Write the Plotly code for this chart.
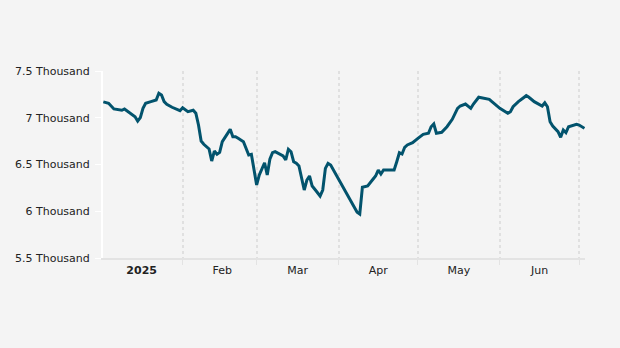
import plotly.graph_objects as go

# Daily series, January - early July 2025
dates = [
    "2025-01-02", "2025-01-04", "2025-01-06", "2025-01-09", "2025-01-10", "2025-01-11",
    "2025-01-13", "2025-01-14", "2025-01-15", "2025-01-16", "2025-01-17", "2025-01-18",
    "2025-01-20", "2025-01-21", "2025-01-22", "2025-01-23", "2025-01-24", "2025-01-25",
    "2025-01-26", "2025-01-28", "2025-01-31", "2025-02-01", "2025-02-03", "2025-02-05",
    "2025-02-06", "2025-02-07", "2025-02-08", "2025-02-09", "2025-02-11", "2025-02-12",
    "2025-02-13", "2025-02-14", "2025-02-15", "2025-02-16", "2025-02-18", "2025-02-19",
    "2025-02-20", "2025-02-21", "2025-02-22", "2025-02-24", "2025-02-26", "2025-02-27",
    "2025-03-01", "2025-03-02", "2025-03-04", "2025-03-05", "2025-03-06", "2025-03-07",
    "2025-03-08", "2025-03-10", "2025-03-11", "2025-03-12", "2025-03-13", "2025-03-14",
    "2025-03-15", "2025-03-16", "2025-03-17", "2025-03-19", "2025-03-20", "2025-03-21",
    "2025-03-22", "2025-03-23", "2025-03-25", "2025-03-26", "2025-03-27", "2025-03-28",
    "2025-03-29", "2025-04-08", "2025-04-09", "2025-04-10", "2025-04-12", "2025-04-14",
    "2025-04-15", "2025-04-16", "2025-04-17", "2025-04-18", "2025-04-22", "2025-04-23",
    "2025-04-24", "2025-04-25", "2025-04-26", "2025-04-27", "2025-04-29", "2025-05-01",
    "2025-05-03", "2025-05-05", "2025-05-06", "2025-05-07", "2025-05-08", "2025-05-10",
    "2025-05-12", "2025-05-14", "2025-05-16", "2025-05-17", "2025-05-19", "2025-05-21",
    "2025-05-22", "2025-05-24", "2025-05-26", "2025-05-28", "2025-05-29", "2025-06-01",
    "2025-06-04", "2025-06-05", "2025-06-06", "2025-06-08", "2025-06-11", "2025-06-12",
    "2025-06-14", "2025-06-16", "2025-06-17", "2025-06-18", "2025-06-19", "2025-06-20",
    "2025-06-21", "2025-06-23", "2025-06-24", "2025-06-25", "2025-06-26", "2025-06-27",
    "2025-06-28", "2025-06-30", "2025-07-01", "2025-07-03",
]

values = [
    7170, 7155, 7094, 7080, 7094, 7072,
    7037, 7011, 6965, 7001, 7101, 7155,
    7172, 7182, 7190, 7262, 7243, 7172,
    7144, 7112, 7075, 7107, 7065, 7080,
    7048, 6922, 6751, 6716, 6666, 6537,
    6644, 6609, 6630, 6744, 6834, 6876,
    6797, 6797, 6780, 6744, 6602, 6609,
    6281, 6388, 6519, 6388, 6556, 6626,
    6637, 6612, 6591, 6548, 6663, 6637,
    6530, 6513, 6484, 6227, 6334, 6377,
    6270, 6235, 6163, 6227, 6459, 6513,
    6495, 5990, 5970, 6256, 6270, 6342,
    6377, 6441, 6398, 6441, 6441, 6530,
    6626, 6612, 6684, 6709, 6733, 6780,
    6823, 6834, 6904, 6933, 6834, 6844,
    6904, 6983, 7101, 7126, 7147, 7101,
    7147, 7219, 7208, 7197, 7172, 7101,
    7048, 7065, 7118, 7172, 7236, 7219,
    7172, 7136, 7126, 7161, 7118, 6958,
    6912, 6851, 6791, 6869, 6840, 6904,
    6915, 6930, 6922, 6887,
]

y_ticks = [5500, 6000, 6500, 7000, 7500]
y_tick_labels = [f"{v / 1000:g} Thousand" for v in y_ticks]

month_centres = [
    "2025-01-16 12:00", "2025-02-16 00:00", "2025-03-16 12:00",
    "2025-04-16 00:00", "2025-05-16 12:00", "2025-06-16 00:00",
]
month_labels = ["<b>2025</b>", "Feb", "Mar", "Apr", "May", "Jun"]

bg = "#f4f4f4"

fig = go.Figure(
    go.Scatter(
        x=dates,
        y=values,
        mode="lines",
        line=dict(color="#02536d", width=3),
        hoverinfo="skip",
    )
)

fig.update_layout(
    width=620,
    height=348,
    margin=dict(l=103, r=35, t=71, b=90),
    paper_bgcolor=bg,
    plot_bgcolor=bg,
    showlegend=False,
    font=dict(family="DejaVu Sans", size=11, color="#222222"),
)

fig.update_xaxes(
    type="date",
    range=["2025-01-01 21:00", "2025-07-03 05:00"],
    tickmode="array",
    tickvals=month_centres,
    ticktext=month_labels,
    ticks="",
    showgrid=False,
    zeroline=False,
    showline=True,
    linecolor="#e3e3e3",
    linewidth=2,
    ticklabelstandoff=1,
    minor=dict(
        dtick="M1",
        tick0="2025-01-01",
        ticks="outside",
        ticklen=5,
        tickwidth=1,
        tickcolor="#e3e3e3",
        showgrid=True,
        gridcolor="#e0e0e0",
        gridwidth=1.5,
        griddash="dot",
    ),
)

fig.update_yaxes(
    range=[5500, 7500],
    tickmode="array",
    tickvals=y_ticks,
    ticktext=y_tick_labels,
    ticks="outside",
    ticklen=6,
    tickwidth=1,
    tickcolor="#ffffff",
    showline=True,
    linecolor="#ffffff",
    linewidth=2,
    showgrid=False,
    zeroline=False,
    ticklabelstandoff=3,
)

fig.write_html("out.html", config={"displayModeBar": False})
